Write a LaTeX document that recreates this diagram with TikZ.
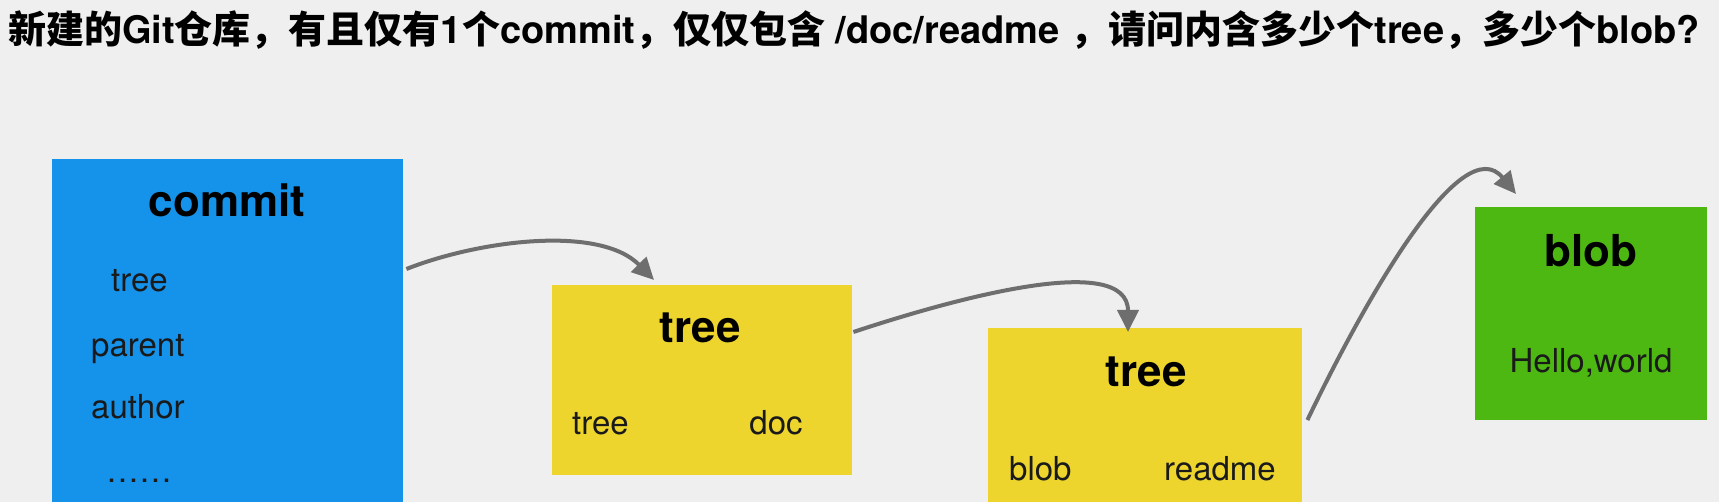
\documentclass[tikz,border=0pt]{standalone}
\usepackage{fontspec}
\setmainfont{TeX Gyre Heros}
\newfontfamily\cjk{Noto Sans CJK SC}
\usetikzlibrary{arrows.meta,calc}
\definecolor{bg}{HTML}{EFEFEF}
\definecolor{cblue}{HTML}{1592EA}
\definecolor{tyellow}{HTML}{EDD52E}
\definecolor{bgreen}{HTML}{4DB812}
\definecolor{agray}{HTML}{6E6E6E}
\definecolor{txt}{HTML}{1A1A1A}
\newcommand{\zh}[1]{{\cjk #1}}
\tikzset{
  box/.style={rectangle, draw=none, inner sep=0pt, anchor=north west},
  head/.style={anchor=base, inner sep=0pt, font=\fontsize{44}{50}\selectfont\bfseries, text=black},
  item/.style={anchor=base west, inner sep=0pt, font=\fontsize{33}{38}\selectfont, text=txt},
  itemc/.style={anchor=base, inner sep=0pt, font=\fontsize{33}{38}\selectfont, text=txt},
  conn/.style={draw=agray, line width=4pt, -{Triangle[length=22pt,width=21pt]}},
}
\begin{document}
\begin{tikzpicture}[x=1pt,y=-1pt]
\useasboundingbox (0,0) rectangle (1719,502);
\fill[bg] (0,0) rectangle (1719,502);

\node[anchor=base west, inner sep=0pt, font=\fontsize{38}{44}\selectfont\bfseries] (title) at (8,44)
  {\zh{新建的}Git\zh{仓库，有且仅有}1\zh{个}commit\zh{，仅仅包含} /doc/readme \zh{，请问内含多少个}tree\zh{，多少个}blob?};

% boxes
\node[box, fill=cblue, minimum width=351.5pt, minimum height=343pt] (commit) at (51.5,159) {};
\node[box, fill=tyellow, minimum width=300pt, minimum height=190pt] (tree1) at (552,285) {};
\node[box, fill=tyellow, minimum width=314pt, minimum height=174pt] (tree2) at (988,328) {};
\node[box, fill=bgreen, minimum width=232pt, minimum height=213pt] (blob) at (1475,207) {};

% commit texts
\node[head] (commitT) at (227,217) {commit};
\node[item] (ctree) at (111,292) {tree};
\node[item] (cparent) at (91,357) {parent};
\node[item] (cauthor) at (91,418) {author};
\node[item] (cdots) at (106,482) {……};

% tree1 texts
\node[head] (tree1T) at (700,343) {tree};
\node[item] (t1tree) at (572,435) {tree};
\node[itemc] (t1doc) at (776,435) {doc};

% tree2 texts
\node[head] (tree2T) at (1146,387) {tree};
\node[item] (t2blob) at (1009,480) {blob};
\node[itemc] (t2readme) at (1220,480) {readme};

% blob texts
\node[head] (blobT) at (1591,267) {blob};
\node[itemc] (blobC) at (1591,373) {Hello,world};

% connectors
\coordinate (a1s) at ($(commit.north east)+(3,110)$);
\coordinate (a1e) at ($(tree1.north west)+(102,-5)$);
\draw[conn] (a1s) .. controls (480,240) and (600,225) .. (a1e);

\coordinate (a2s) at ($(tree1.north east)+(1,47)$);
\coordinate (a2e) at ($(tree2.north west)+(140,4)$);
\draw[conn] (a2s) .. controls (950,300) and (1128,250) .. (a2e);

\coordinate (a3s) at ($(tree2.north east)+(5,92)$);
\coordinate (a3e) at ($(blob.north west)+(41,-13)$);
\draw[conn] (a3s) .. controls (1365,300) and (1462,128) .. (a3e);
\end{tikzpicture}
\end{document}
